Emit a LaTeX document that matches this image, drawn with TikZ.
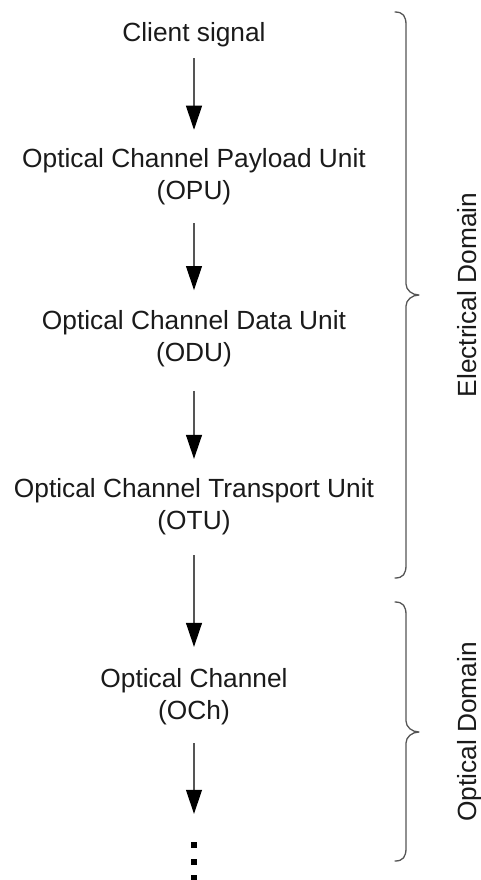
\documentclass[tikz,border=0pt]{standalone}
\usepackage{fontspec}
\setmainfont{Liberation Sans}
\usetikzlibrary{arrows.meta}
\definecolor{inkc}{HTML}{1A1A1A}
\definecolor{linec}{HTML}{555555}
\begin{document}
\begin{tikzpicture}[x=1pt,y=1pt,
  lbl/.style={font=\fontsize{26.3}{32}\selectfont, text=inkc, align=center, inner sep=0pt},
  sidelbl/.style={lbl, rotate=90, text height=19pt, text depth=0pt},
  flow/.style={draw=linec, line width=1.1pt,
    -{Triangle[length=24pt,width=16pt,color=black]}},
  bracec/.style={draw=linec, line width=1.3pt, line cap=round, line join=round},
  dotsq/.style={fill=black, minimum size=6pt, inner sep=0pt, draw=none}]
\useasboundingbox (0,0) rectangle (480,-880);

% layer names
\node[lbl] (client) at (194,-34.6) {Client signal};
\node[lbl] (opu) at (194,-176.7) {Optical Channel Payload Unit\\(OPU)};
\node[lbl] (odu) at (194,-338.9) {Optical Channel Data Unit\\(ODU)};
\node[lbl] (otu) at (194,-506.7) {Optical Channel Transport Unit\\(OTU)};
\node[lbl] (och) at (194,-696.7) {Optical Channel\\(OCh)};

% continuation dots
\node[dotsq] (d1) at (194,-845) {};
\node[dotsq] (d2) at (194,-861.5) {};
\node[dotsq] (d3) at (194,-878) {};

% mapping arrows
\draw[flow, shorten <=11pt, shorten >=18.5pt] (client.south) -- (opu.north);
\draw[flow, shorten <=18pt, shorten >=20.4pt] (opu.south) -- (odu.north);
\draw[flow, shorten <=23.6pt, shorten >=19.4pt] (odu.south) -- (otu.north);
\draw[flow, shorten <=20pt, shorten >=21.4pt] (otu.south) -- (och.north);
\draw[flow, shorten <=18pt, shorten >=28pt] (och.south) -- (d1.north);

% electrical domain brace
\draw[bracec] (395,-12) .. controls (403,-12) and (406,-16) .. (406,-25)
  -- (406,-284) .. controls (406,-290) and (412,-295) .. (419,-295)
  .. controls (412,-295) and (406,-300) .. (406,-306)
  -- (406,-565) .. controls (406,-574) and (403,-578) .. (395,-578);
% optical domain brace
\draw[bracec] (395,-602) .. controls (403,-602) and (406,-606) .. (406,-615)
  -- (406,-721) .. controls (406,-727) and (412,-732) .. (419,-732)
  .. controls (412,-732) and (406,-737) .. (406,-743)
  -- (406,-848) .. controls (406,-857) and (403,-861) .. (395,-861);

\node[sidelbl] (elec) at (466.5,-295) {Electrical Domain};
\node[sidelbl] (opt) at (466.5,-732) {Optical Domain};
\end{tikzpicture}
\end{document}
